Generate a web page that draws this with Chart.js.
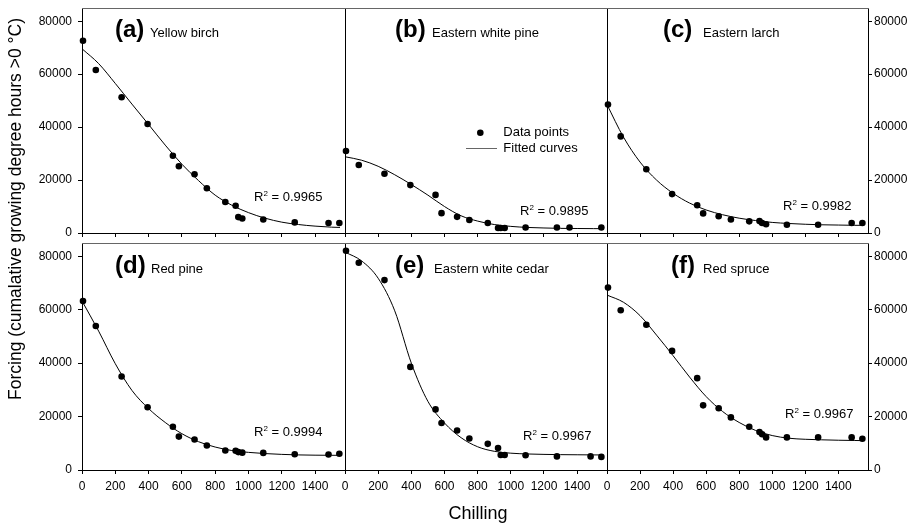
<!DOCTYPE html>
<html>
<head>
<meta charset="utf-8">
<script src="https://cdn.jsdelivr.net/npm/chart.js@4.4.1/dist/chart.umd.min.js"></script>
<style>
    html, body { margin: 0; padding: 0; background: #fff; }
    #wrap { position: relative; width: 919px; height: 526px; }
    #wrap canvas { position: absolute; left: 0; top: 0; }
</style>
</head>
<body>
<div id="wrap"></div>
<script>
// Chilling of each sampling date (white pine has one date that differs)
const chilling = [6, 83, 238, 394, 546, 582, 676, 750, 861, 923, 939, 963, 1089, 1278, 1481, 1546];
const chillingWhitePine = [6, 83, 238, 394, 546, 582, 676, 750, 861, 923, 939, 963, 1089, 1278, 1354, 1546];

// Forcing data points
const forcingYellowBirch = [72600, 61600, 51300, 41200, 29200, 25200, 22200, 16900, 11700, 10300, 6000, 5500, 5100, 4000, 3800, 3800];
const forcingWhitePine = [31000, 25700, 22400, 18100, 14400, 7500, 6100, 4900, 3800, 1900, 1900, 1900, 2100, 2100, 2100, 2100];
const forcingLarch = [48500, 36500, 24100, 14700, 10500, 7400, 6300, 5100, 4400, 4500, 3800, 3300, 3100, 3100, 3800, 3800];
const forcingRedPine = [63300, 53900, 35000, 23500, 16200, 12500, 11400, 9200, 7300, 7200, 6700, 6500, 6400, 5900, 5800, 6100];
const forcingCedar = [82100, 77600, 71100, 38600, 22700, 17600, 14800, 11800, 9800, 8200, 5600, 5600, 5500, 5100, 5100, 4900];
const forcingRedSpruce = [68300, 59800, 54400, 44600, 34400, 24200, 23100, 19700, 16200, 14200, 13400, 12200, 12200, 12200, 12200, 11700];

// Fitted curves
const fitChilling = [0, 100, 200, 300, 400, 500, 600, 700, 800, 900, 1000, 1100, 1200, 1300, 1400, 1500, 1550];
const fitYellowBirch = [69600, 64000, 56500, 48700, 41000, 33200, 26000, 19800, 14300, 10500, 7700, 5600, 4100, 3200, 2600, 2200, 2100];
const fitWhitePine = [28800, 27500, 25200, 22000, 18300, 14300, 10000, 6500, 4500, 3200, 2500, 2100, 1900, 1750, 1700, 1650, 1650];
const fitLarch = [48500, 36200, 26800, 20000, 15000, 11300, 8700, 6900, 5600, 4700, 4000, 3600, 3300, 3100, 3000, 2900, 2900];
const fitRedPine = [63300, 52000, 39800, 29800, 23000, 17800, 13600, 10600, 8600, 7300, 6600, 6150, 5850, 5650, 5550, 5500, 5500];
const fitCedar = [81600, 78300, 71800, 59600, 40000, 25700, 17600, 12100, 8700, 7000, 6300, 6000, 5850, 5750, 5700, 5650, 5640];
const fitRedSpruce = [65500, 62800, 57800, 50500, 42800, 34800, 27500, 21900, 17800, 14800, 12900, 11900, 11500, 11300, 11150, 11050, 11000];

const xTicks = [0, 200, 400, 600, 800, 1000, 1200, 1400];
const yTicks = [0, 20000, 40000, 60000, 80000];
const X_MAX = 1580;
const Y_MAX = 85000;

const W = 919;
const H = 526;
const Y_AXIS_WIDTH = 50;
const FONT = "'Liberation Sans', Arial, sans-serif";

const panels = [
    { letter: '(a)', name: 'Yellow birch', r2: '0.9965', x: chilling, y: forcingYellowBirch, fit: fitYellowBirch,
      area: { left: 82, top: 8, right: 345, bottom: 233 }, yAxis: 'left', xLabels: false,
      letterAt: [33, 28.5], nameAt: 68, r2At: [172, 193.4] },
    { letter: '(b)', name: 'Eastern white pine', r2: '0.9895', x: chillingWhitePine, y: forcingWhitePine, fit: fitWhitePine,
      area: { left: 345, top: 8, right: 607, bottom: 233 }, yAxis: 'none', xLabels: false,
      letterAt: [50, 28.5], nameAt: 87, r2At: [175, 207.4], legend: true },
    { letter: '(c)', name: 'Eastern larch', r2: '0.9982', x: chilling, y: forcingLarch, fit: fitLarch,
      area: { left: 607, top: 8, right: 868, bottom: 233 }, yAxis: 'right', xLabels: false,
      letterAt: [56, 28.5], nameAt: 96, r2At: [176, 201.7] },
    { letter: '(d)', name: 'Red pine', r2: '0.9994', x: chilling, y: forcingRedPine, fit: fitRedPine,
      area: { left: 82, top: 243, right: 345, bottom: 470 }, yAxis: 'left', xLabels: true,
      letterAt: [33, 30], nameAt: 69, r2At: [172, 193.4] },
    { letter: '(e)', name: 'Eastern white cedar', r2: '0.9967', x: chilling, y: forcingCedar, fit: fitCedar,
      area: { left: 345, top: 243, right: 607, bottom: 470 }, yAxis: 'none', xLabels: true,
      letterAt: [50, 30], nameAt: 89, r2At: [178, 197.4] },
    { letter: '(f)', name: 'Red spruce', r2: '0.9967', x: chilling, y: forcingRedSpruce, fit: fitRedSpruce,
      area: { left: 607, top: 243, right: 868, bottom: 470 }, yAxis: 'right', xLabels: true,
      letterAt: [64, 30], nameAt: 96, r2At: [178, 175] }
];

let charts = [];

document.addEventListener('DOMContentLoaded', function() {
    panels.forEach((panel, i) => {
        charts.push(createPanel(panel, i));
    });
});

function toPoints(xs, ys) {
    return xs.map((x, i) => ({ x: x, y: ys[i] }));
}

// scales must not push the chart area around, the panels have fixed frames
function noScalePadding(s) {
    s.paddingTop = 0;
    s.paddingBottom = 0;
    s.paddingLeft = 0;
    s.paddingRight = 0;
}

function decorPlugin(panel, index) {
    return {
        id: 'decor' + index,
        afterDraw(chart) {
            const ctx = chart.ctx;
            const a = chart.chartArea;
            ctx.save();

            // frame
            ctx.lineWidth = 1;
            ctx.strokeStyle = '#000';
            ctx.beginPath();
            ctx.moveTo(a.left + 0.5, a.top + 0.5);
            ctx.lineTo(a.left + 0.5, a.bottom + 0.5);
            ctx.lineTo(a.right + 0.5, a.bottom + 0.5);
            ctx.lineTo(a.right + 0.5, a.top + 0.5);
            ctx.stroke();
            ctx.strokeStyle = '#666';
            ctx.beginPath();
            ctx.moveTo(a.left, a.top + 0.5);
            ctx.lineTo(a.right + 1, a.top + 0.5);
            ctx.stroke();

            // panel title
            ctx.fillStyle = '#000';
            ctx.textBaseline = 'alphabetic';
            ctx.textAlign = 'left';
            ctx.font = 'bold 24px ' + FONT;
            ctx.fillText(panel.letter, a.left + panel.letterAt[0], a.top + panel.letterAt[1]);
            ctx.font = '13px ' + FONT;
            ctx.fillText(panel.name, a.left + panel.nameAt, a.top + panel.letterAt[1]);

            // R squared
            let rx = a.left + panel.r2At[0];
            const ry = a.top + panel.r2At[1];
            ctx.font = '13px ' + FONT;
            ctx.fillText('R', rx, ry);
            rx += ctx.measureText('R').width;
            ctx.font = '8px ' + FONT;
            ctx.fillText('2', rx, ry - 5);
            rx += ctx.measureText('2').width;
            ctx.font = '13px ' + FONT;
            ctx.fillText(' = ' + panel.r2, rx, ry);

            if (panel.legend) {
                ctx.beginPath();
                ctx.arc(a.left + 135.3, a.top + 124.7, 3.3, 0, Math.PI * 2);
                ctx.fill();
                ctx.beginPath();
                ctx.moveTo(a.left + 121, a.top + 140.5);
                ctx.lineTo(a.left + 152, a.top + 140.5);
                ctx.stroke();
                ctx.textBaseline = 'middle';
                ctx.fillText('Data points', a.left + 158.3, a.top + 124.7);
                ctx.fillText('Fitted curves', a.left + 158.3, a.top + 140.3);
            }

            if (index === 0) {
                // shared axis titles
                ctx.textAlign = 'center';
                ctx.textBaseline = 'middle';
                ctx.font = '18px ' + FONT;
                ctx.fillText('Chilling', 478, 514);
                ctx.translate(16, 209);
                ctx.rotate(-Math.PI / 2);
                ctx.font = '17.5px ' + FONT;
                ctx.fillText('Forcing (cumalative growing degree hours >0 \u00B0C)', 0, 0);
            }
            ctx.restore();
        }
    };
}

function createPanel(panel, index) {
    const canvas = document.createElement('canvas');
    canvas.width = W;
    canvas.height = H;
    document.getElementById('wrap').appendChild(canvas);

    const a = panel.area;
    const xH = panel.xLabels ? 30 : 8;
    const padding = {
        left: a.left - (panel.yAxis === 'left' ? Y_AXIS_WIDTH : 0),
        right: W - a.right - (panel.yAxis === 'right' ? Y_AXIS_WIDTH : 0),
        top: a.top,
        bottom: H - a.bottom - xH
    };

    const tickGrid = {
        display: true,
        drawOnChartArea: false,
        drawTicks: true,
        tickLength: 4,
        color: '#000',
        lineWidth: 1
    };
    const tickFont = { family: FONT, size: 12 };

    return new Chart(canvas, {
        type: 'scatter',
        data: {
            datasets: [
                {
                    label: 'Data points',
                    data: toPoints(panel.x, panel.y),
                    pointRadius: 3.3,
                    pointBackgroundColor: '#000',
                    pointBorderWidth: 0,
                    clip: false
                },
                {
                    type: 'line',
                    label: 'Fitted curves',
                    data: toPoints(fitChilling, panel.fit),
                    borderColor: '#000',
                    borderWidth: 1,
                    pointRadius: 0,
                    fill: false,
                    cubicInterpolationMode: 'monotone',
                    clip: false
                }
            ]
        },
        options: {
            responsive: false,
            animation: false,
            devicePixelRatio: 1,
            events: [],
            layout: { padding: padding },
            scales: {
                x: {
                    type: 'linear',
                    min: 0,
                    max: X_MAX,
                    afterBuildTicks: s => { s.ticks = xTicks.map(v => ({ value: v })); },
                    afterFit: s => { s.height = xH; noScalePadding(s); },
                    grid: tickGrid,
                    border: { display: false },
                    ticks: {
                        display: panel.xLabels,
                        padding: 5,
                        color: '#000',
                        font: tickFont,
                        maxRotation: 0,
                        autoSkip: false,
                        callback: v => String(v)
                    }
                },
                y: {
                    type: 'linear',
                    min: 0,
                    max: Y_MAX,
                    display: panel.yAxis !== 'none',
                    position: panel.yAxis === 'right' ? 'right' : 'left',
                    afterBuildTicks: s => { s.ticks = yTicks.map(v => ({ value: v })); },
                    afterFit: s => {
                        if (panel.yAxis !== 'none') s.width = Y_AXIS_WIDTH;
                        noScalePadding(s);
                    },
                    grid: tickGrid,
                    border: { display: false },
                    ticks: {
                        padding: panel.yAxis === 'left' ? 6 : 2,
                        color: '#000',
                        font: tickFont,
                        autoSkip: false,
                        callback: v => String(v)
                    }
                }
            },
            plugins: {
                legend: { display: false },
                tooltip: { enabled: false },
                title: { display: false }
            }
        },
        plugins: [decorPlugin(panel, index)]
    });
}
</script>
</body>
</html>
